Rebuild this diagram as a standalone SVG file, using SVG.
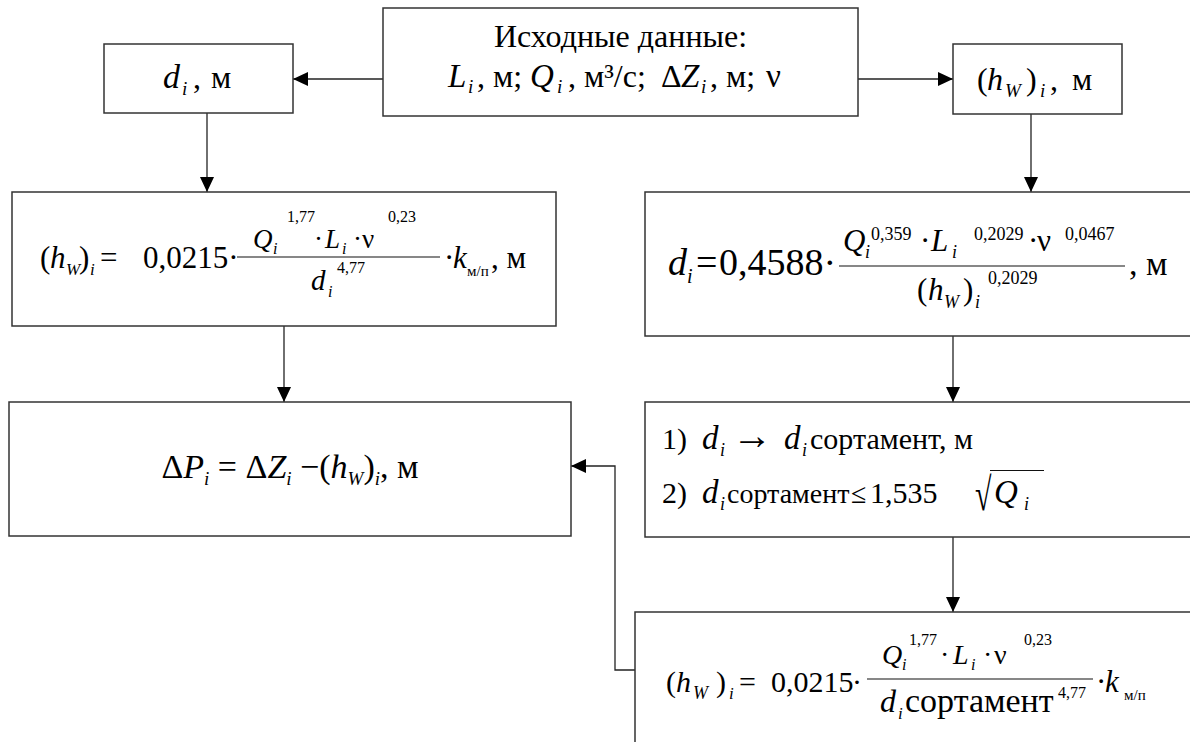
<svg xmlns="http://www.w3.org/2000/svg" width="1190" height="742" viewBox="0 0 1190 742" font-family="'Liberation Serif', 'Times New Roman', serif">
<style>
text{font-family:'Liberation Serif','Times New Roman',serif;fill:#000}
.it{font-style:italic}
.box{fill:#fff;stroke:#333;stroke-width:1.5}
.ln{fill:none;stroke:#222;stroke-width:1.3}
.bar{stroke:#111;stroke-width:1.2}
</style>
<defs>
<marker id="ah" markerUnits="userSpaceOnUse" markerWidth="15" markerHeight="14" refX="15" refY="7" orient="auto">
<path d="M0,0 L15,7 L0,14 z" fill="#000"/>
</marker>
</defs>
<rect width="1190" height="742" fill="#fff"/>

<g id="connectors">
<path class="ln" d="M383,79 H293" marker-end="url(#ah)"/>
<path class="ln" d="M858,79 H953" marker-end="url(#ah)"/>
<path class="ln" d="M207,113 V192" marker-end="url(#ah)"/>
<path class="ln" d="M1031,114 V192" marker-end="url(#ah)"/>
<path class="ln" d="M284,326 V402" marker-end="url(#ah)"/>
<path class="ln" d="M953,336 V402" marker-end="url(#ah)"/>
<path class="ln" d="M953,537 V612" marker-end="url(#ah)"/>
<path class="ln" d="M635,670 H615 V466 H571" marker-end="url(#ah)"/>
</g>

<g id="n-input">
<rect class="box" x="383" y="8" width="475" height="108"/>
<text x="620.5" y="47" font-size="32" text-anchor="middle">Исходные данные:</text>
<text font-size="32"><tspan class="it" x="448" y="87" font-size="33">L</tspan><tspan class="it" x="468" y="93" font-size="19">i</tspan><tspan x="477" y="87">, м;</tspan><tspan class="it" x="530" y="87" font-size="33">Q</tspan><tspan class="it" x="557" y="93" font-size="19">i</tspan><tspan x="568" y="87">, м³/с;</tspan><tspan x="661" y="87">Δ</tspan><tspan class="it" x="681" y="87" font-size="33">Z</tspan><tspan class="it" x="701" y="93" font-size="19">i</tspan><tspan x="710" y="87">, м;</tspan><tspan x="766" y="87" font-size="33">ν</tspan></text>
</g>

<g id="n-d">
<rect class="box" x="104" y="44" width="189" height="69"/>
<text font-size="32"><tspan class="it" x="163" y="88" font-size="34">d</tspan><tspan class="it" x="182" y="95" font-size="19">i</tspan><tspan x="193" y="88">,</tspan><tspan x="211" y="88">м</tspan></text>
</g>

<g id="n-hw">
<rect class="box" x="953" y="44" width="169" height="70"/>
<text font-size="32"><tspan x="977" y="90">(</tspan><tspan class="it" x="987" y="90">h</tspan><tspan class="it" x="1005" y="97" font-size="19">W</tspan><tspan x="1026" y="90">)</tspan><tspan class="it" x="1040" y="97" font-size="19">i</tspan><tspan x="1050" y="90">,</tspan><tspan x="1072" y="90">м</tspan></text>
</g>

<g id="n-formula-left">
<rect class="box" x="12" y="192" width="544" height="134"/>
<text font-size="31"><tspan x="40" y="268">(</tspan><tspan class="it" x="50" y="268">h</tspan><tspan class="it" x="66" y="275" font-size="17">W</tspan><tspan x="79" y="268">)</tspan><tspan class="it" x="90" y="275" font-size="17">i</tspan><tspan x="100" y="268">=</tspan><tspan x="143" y="268">0,0215·</tspan></text>
<line class="bar" x1="237" y1="257" x2="440" y2="257"/>
<text font-size="27"><tspan class="it" x="253" y="248">Q</tspan><tspan class="it" x="273" y="254" font-size="16">i</tspan><tspan x="287" y="222" font-size="16">1,77</tspan><tspan x="314" y="248">·</tspan><tspan class="it" x="325" y="248">L</tspan><tspan class="it" x="342" y="254" font-size="16">i</tspan><tspan x="353" y="248">·</tspan><tspan x="362" y="248">ν</tspan><tspan x="388" y="222" font-size="16">0,23</tspan></text>
<text font-size="29"><tspan class="it" x="311" y="290">d</tspan><tspan class="it" x="328" y="297" font-size="16">i</tspan><tspan x="337" y="273" font-size="16">4,77</tspan></text>
<text font-size="31"><tspan x="444" y="268">·</tspan><tspan class="it" x="453" y="268">k</tspan><tspan x="467" y="276" font-size="15">м/п</tspan><tspan x="491" y="268">, м</tspan></text>
</g>

<g id="n-formula-right">
<rect class="box" x="645" y="192" width="620" height="144"/>
<text font-size="38"><tspan class="it" x="668" y="275">d</tspan><tspan class="it" x="687" y="283" font-size="20">i</tspan><tspan x="696" y="275">=</tspan><tspan x="719" y="275">0,4588·</tspan></text>
<line class="bar" x1="839" y1="266" x2="1125" y2="266"/>
<text font-size="31"><tspan class="it" x="843" y="251">Q</tspan><tspan class="it" x="865" y="258" font-size="18">i</tspan><tspan x="871" y="240" font-size="18">0,359</tspan><tspan x="920" y="251">·</tspan><tspan class="it" x="931" y="251">L</tspan><tspan class="it" x="952" y="258" font-size="18">i</tspan><tspan x="974" y="240" font-size="18">0,2029</tspan><tspan x="1028" y="251">·</tspan><tspan x="1037" y="251">ν</tspan><tspan x="1065" y="240" font-size="18">0,0467</tspan></text>
<text font-size="31"><tspan x="917" y="300">(</tspan><tspan class="it" x="928" y="300">h</tspan><tspan class="it" x="944" y="308" font-size="18">W</tspan><tspan x="963" y="300">)</tspan><tspan class="it" x="975" y="308" font-size="18">i</tspan><tspan x="988" y="284" font-size="18">0,2029</tspan></text>
<text x="1129" y="275" font-size="34">, м</text>
</g>

<g id="n-dp">
<rect class="box" x="9" y="402" width="562" height="134"/>
<text x="290" y="478" text-anchor="middle" font-size="34"><tspan>Δ</tspan><tspan class="it">P</tspan><tspan class="it" font-size="19" dy="7">i</tspan><tspan dy="-7"> = Δ</tspan><tspan class="it">Z</tspan><tspan class="it" font-size="19" dy="7">i</tspan><tspan dy="-7"> −(</tspan><tspan class="it">h</tspan><tspan class="it" font-size="19" dy="7">W</tspan><tspan dy="-7">)</tspan><tspan class="it" font-size="19" dy="7">i</tspan><tspan dy="-7">, м</tspan></text>
</g>

<g id="n-sortament">
<rect class="box" x="645" y="402" width="620" height="135"/>
<text font-size="30"><tspan x="662" y="449">1)</tspan><tspan class="it" x="702" y="449" font-size="33">d</tspan><tspan class="it" x="720" y="456" font-size="18">i</tspan><tspan x="732" y="449" font-size="40">→</tspan><tspan class="it" x="784" y="449" font-size="33">d</tspan><tspan class="it" x="802" y="456" font-size="18">i</tspan><tspan x="810" y="449">сортамент, м</tspan></text>
<text font-size="28"><tspan x="662" y="503" font-size="30">2)</tspan><tspan class="it" x="702" y="503" font-size="33">d</tspan><tspan class="it" x="720" y="510" font-size="18">i</tspan><tspan x="727" y="503">сортамент</tspan><tspan x="851" y="503">≤</tspan><tspan x="870" y="503" font-size="30">1,535</tspan><tspan class="it" x="994" y="503" font-size="33">Q</tspan><tspan class="it" x="1024" y="510" font-size="18">i</tspan></text>
<text transform="translate(975,510) scale(1,1.55)" font-size="30">√</text>
<line class="bar" x1="990" y1="470.5" x2="1044" y2="470.5"/>
</g>

<g id="n-formula-bottom">
<rect class="box" x="635" y="612" width="630" height="150"/>
<text font-size="30"><tspan x="666" y="692">(</tspan><tspan class="it" x="676" y="692">h</tspan><tspan class="it" x="693" y="699" font-size="18">W</tspan><tspan x="716" y="692">)</tspan><tspan class="it" x="729" y="699" font-size="17">i</tspan><tspan x="739" y="692">=</tspan><tspan x="771" y="692">0,0215</tspan><tspan x="852" y="692">·</tspan></text>
<line class="bar" x1="867" y1="679" x2="1093" y2="679"/>
<text font-size="28"><tspan class="it" x="882" y="664">Q</tspan><tspan class="it" x="902" y="670" font-size="16">i</tspan><tspan x="909" y="645" font-size="16">1,77</tspan><tspan x="940" y="664">·</tspan><tspan class="it" x="953" y="664">L</tspan><tspan class="it" x="971" y="670" font-size="16">i</tspan><tspan x="983" y="664">·</tspan><tspan x="994" y="664">ν</tspan><tspan x="1024" y="645" font-size="16">0,23</tspan></text>
<text font-size="34"><tspan class="it" x="880" y="712" font-size="32">d</tspan><tspan class="it" x="898" y="719" font-size="17">i</tspan><tspan x="905" y="712">сортамент</tspan><tspan x="1058" y="698" font-size="16">4,77</tspan></text>
<text font-size="31"><tspan x="1096" y="692">·</tspan><tspan class="it" x="1105" y="692">k</tspan><tspan x="1124" y="700" font-size="15">м/п</tspan></text>
</g>
</svg>
